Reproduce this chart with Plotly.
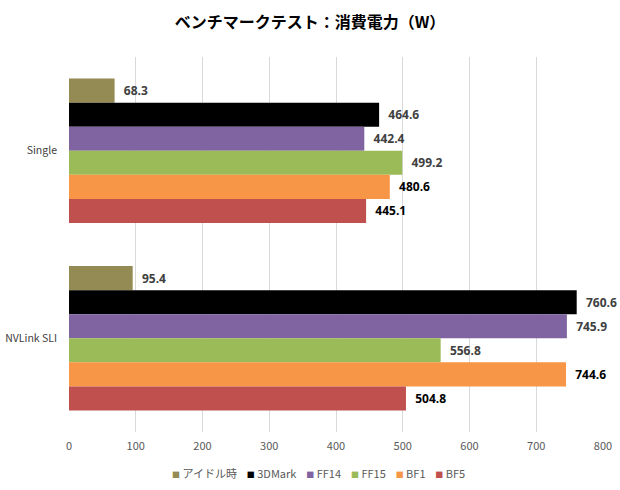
import plotly.graph_objects as go

categories = ["Single", "NVLink SLI"]
series_names = ["アイドル時", "3DMark", "FF14", "FF15", "BF1", "BF5"]
idle = [68.3, 95.4]
mark3d = [464.6, 760.6]
ff14 = [442.4, 745.9]
ff15 = [499.2, 556.8]
bf1 = [480.6, 744.6]
bf5 = [445.1, 504.8]
x_ticks = [0, 100, 200, 300, 400, 500, 600, 700, 800]

series_values = [idle, mark3d, ff14, ff15, bf1, bf5]
colors = ["#948A54", "#000000", "#8064A2", "#9BBB59", "#F79646", "#C0504D"]
label_colors = ["#404040", "#404040", "#404040", "#404040", "#000000", "#000000"]

font_family = "Noto Sans CJK JP, Noto Sans, sans-serif"

fig = go.Figure()
for name, vals, col, lc in zip(series_names, series_values, colors, label_colors):
    fig.add_trace(go.Bar(
        y=categories, x=vals, name=name, orientation="h",
        marker=dict(color=col, line=dict(width=0)),
        text=["\u00a0\u00a0" + f"{v:.1f}" for v in vals], textposition="outside",
        textfont=dict(size=12, color=lc, family="Open Sans, sans-serif", weight="bold"),
        cliponaxis=False, showlegend=False,
    ))

# custom compact legend built from series names and colours
legend_text = "\u00a0\u00a0\u00a0\u00a0".join(
    f"<span style='color:{c};font-size:8px'>■</span>\u00a0{n}" for n, c in zip(series_names, colors)
)
fig.add_annotation(
    text=legend_text, xref="paper", yref="paper", x=0.468, y=-0.11,
    xanchor="center", yanchor="middle", showarrow=False,
    font=dict(size=11, color="#595959", family=font_family),
)

fig.update_layout(
    width=620, height=490,
    barmode="group", bargap=0.23, bargroupgap=0,
    paper_bgcolor="white", plot_bgcolor="white",
    margin=dict(l=69, r=17, t=57, b=58),
    title=dict(text="<b>ベンチマークテスト：消費電力（W）</b>", x=0.5, xanchor="center",
               y=0.955, yanchor="middle",
               font=dict(size=16, color="#000000", family=font_family)),
    font=dict(family=font_family, size=11, color="#595959"),
    xaxis=dict(range=[0, 800], tickvals=x_ticks, showgrid=True, gridcolor="#D9D9D9",
               gridwidth=1, zeroline=False, showline=False, ticks="", automargin=False,
               ticklabelstandoff=6,
               tickfont=dict(size=11, color="#595959"), fixedrange=True),
    yaxis=dict(autorange="reversed", showgrid=False, zeroline=False, showline=False,
               ticks="", automargin=False, tickfont=dict(size=10.5, color="#404040"),
               ticklabelstandoff=11),
    showlegend=False,
)

fig.write_html("out.html")
